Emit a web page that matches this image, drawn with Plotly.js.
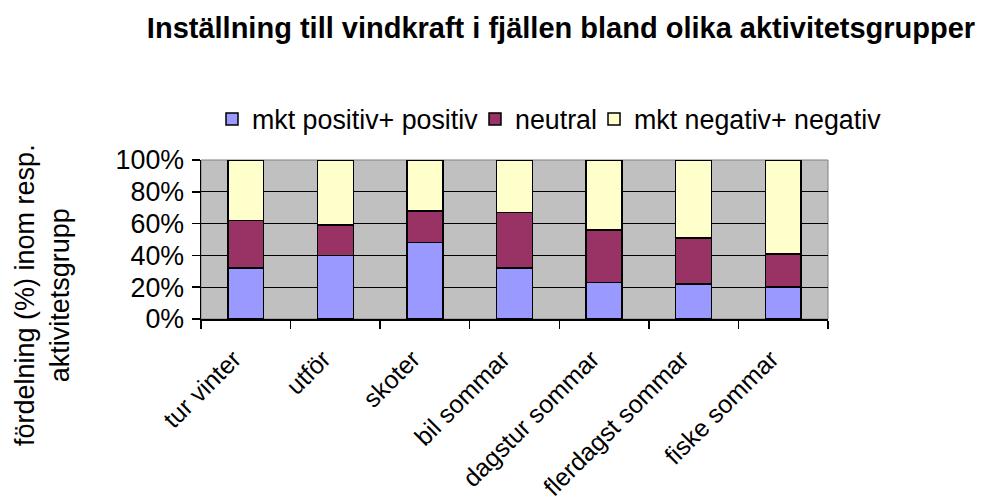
<!DOCTYPE html>
<html>
<head>
<meta charset="utf-8">
<script src="https://cdn.plot.ly/plotly-3.0.1.min.js"></script>
<style>html,body{margin:0;padding:0;background:#fff;}#chart{width:989px;height:504px;}</style>
</head>
<body>
<div id="chart"></div>
<script>
const categories = ['tur vinter', 'utför', 'skoter', 'bil sommar', 'dagstur sommar', 'flerdagst sommar', 'fiske sommar'];
const seriesNames = ['mkt positiv+ positiv', 'neutral', 'mkt negativ+ negativ'];
const positiv = [32, 40, 48, 32, 23, 22, 20];
const neutral = [30, 19, 20, 35, 33, 29, 21];
const negativ = [38, 41, 32, 33, 44, 49, 59];
const yTickVals = [0, 20, 40, 60, 80, 100];
const yTickText = ['0%', '20%', '40%', '60%', '80%', '100%'];
const titleText = 'Inställning till vindkraft i fjällen bland olika aktivitetsgrupper';
const yTitleText = 'fördelning (%) inom resp.<br>aktivitetsgrupp';

const FONT = '"Liberation Sans", Arial, sans-serif';
const colors = ['#9999FF', '#993366', '#FFFFCC'];
const values = [positiv, neutral, negativ];
const legendIds = ['legend', 'legend2', 'legend3'];
const legendX = [212, 475, 594];

const traces = values.map((v, i) => ({
  type: 'bar',
  name: seriesNames[i],
  x: categories,
  y: v,
  width: 0.4,
  legend: legendIds[i],
  marker: {color: colors[i], line: {color: '#000', width: 1.5}},
  hoverinfo: 'x+y+name'
}));

const layout = {
  width: 989, height: 504,
  margin: {l: 201, r: 161, t: 160, b: 185, pad: 0},
  paper_bgcolor: '#fff',
  plot_bgcolor: '#C0C0C0',
  barmode: 'stack',
  font: {family: FONT, size: 25, color: '#000'},
  title: {
    text: '<b>' + titleText + '</b>',
    font: {family: FONT, size: 29, color: '#000'},
    x: 561 / 989, xanchor: 'center', xref: 'container',
    y: 1 - 28 / 504, yanchor: 'middle', yref: 'container'
  },
  showlegend: true,
  xaxis: {
    type: 'category',
    tickson: 'boundaries',
    ticks: 'outside', ticklen: 8, tickwidth: 1.5, tickcolor: '#000',
    showline: true, linecolor: '#000', linewidth: 1.5,
    showgrid: false,
    tickangle: -45,
    ticklabelshift: -12,
    ticklabelstandoff: 14,
    tickfont: {family: FONT, size: 25, color: '#000'},
    fixedrange: true
  },
  yaxis: {
    range: [0, 100],
    tickvals: yTickVals, ticktext: yTickText,
    ticks: 'outside', ticklen: 8, tickwidth: 1.5, tickcolor: '#000',
    showline: true, linecolor: '#000', linewidth: 1.5,
    showgrid: true, gridcolor: '#000', gridwidth: 1.2,
    zeroline: false,
    ticklabelstandoff: 2,
    tickfont: {family: FONT, size: 26.8, color: '#000'},
    fixedrange: true
  },
  shapes: [{
    type: 'rect', xref: 'paper', yref: 'paper', x0: 0, x1: 1, y0: 0, y1: 1,
    line: {color: '#808080', width: 1}, fillcolor: 'rgba(0,0,0,0)', layer: 'below'
  }],
  annotations: [{
    text: yTitleText,
    xref: 'paper', yref: 'paper',
    x: (42 - 201) / 627, y: (319 - 295) / 159,
    xanchor: 'center', yanchor: 'middle',
    textangle: -90, showarrow: false,
    font: {family: FONT, size: 27, color: '#000'}
  }]
};

legendIds.forEach((id, i) => {
  layout[id] = {
    orientation: 'h',
    xref: 'container', yref: 'container',
    x: legendX[i] / 989, xanchor: 'left',
    y: 1 - 119 / 504, yanchor: 'middle',
    font: {family: FONT, size: 26.8, color: '#000'},
    bgcolor: 'rgba(0,0,0,0)'
  };
});

Plotly.newPlot('chart', traces, layout, {displayModeBar: false, staticPlot: true});
</script>
</body>
</html>
